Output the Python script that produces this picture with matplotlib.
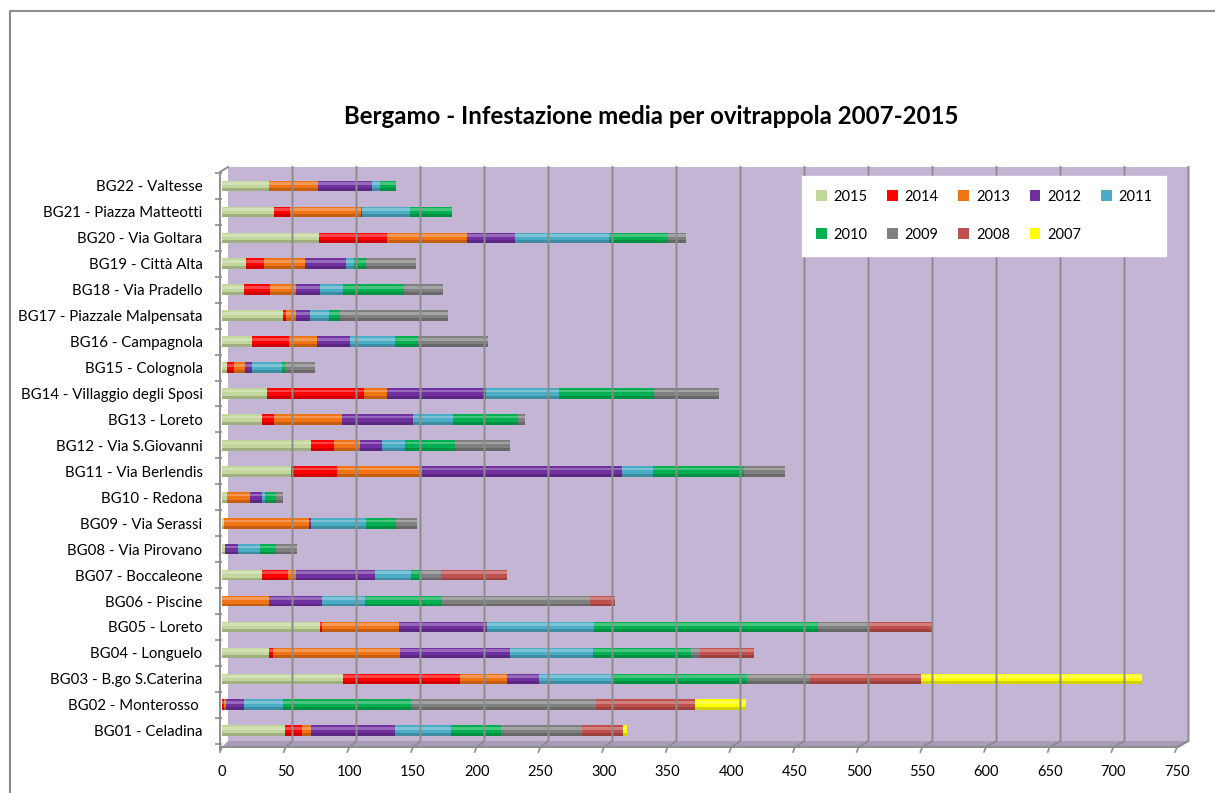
import matplotlib
matplotlib.use('Agg')
import matplotlib.pyplot as plt
from matplotlib.patches import Patch, Polygon
from matplotlib.lines import Line2D

plt.rcParams['font.family'] = ['Lato', 'DejaVu Sans']

# stazioni, dal basso verso l'alto
stazioni = ['BG01 - Celadina', 'BG02 - Monterosso ', 'BG03 - B.go S.Caterina', 'BG04 - Longuelo',
            'BG05 - Loreto', 'BG06 - Piscine', 'BG07 - Boccaleone', 'BG08 - Via Pirovano',
            'BG09 - Via Serassi', 'BG10 - Redona', 'BG11 - Via Berlendis', 'BG12 - Via S.Giovanni',
            'BG13 - Loreto', 'BG14 - Villaggio degli Sposi', 'BG15 - Colognola', 'BG16 - Campagnola',
            'BG17 - Piazzale Malpensata', 'BG18 - Via Pradello', 'BG19 - Città Alta',
            'BG20 - Via Goltara', 'BG21 - Piazza Matteotti', 'BG22 - Valtesse']

anni = ['2015', '2014', '2013', '2012', '2011', '2010', '2009', '2008', '2007']

v2015 = [49.5, 0, 94.7, 37.2, 76.7, 0, 31.5, 2.5, 1.9, 4.0, 53.9, 69.9, 31.5, 35.4, 3.8, 23.6, 48.2, 17.4, 18.7, 76.1, 41.1, 37.2]
v2014 = [13.3, 1.5, 92.0, 2.6, 2.1, 0, 20.6, 0, 0, 0, 36.4, 18.3, 9.1, 76.3, 6.0, 29.3, 2.3, 20.3, 14.6, 53.1, 12.3, 0]
v2013 = [7.1, 1.8, 37.3, 100.1, 60.3, 37.2, 6.3, 0, 66.1, 17.6, 67.1, 20.1, 53.8, 17.5, 8.6, 21.4, 7.9, 20.7, 31.9, 63.5, 55.7, 37.9]
v2012 = [65.6, 14.3, 24.8, 86.2, 68.7, 41.0, 61.9, 9.9, 1.6, 9.6, 156.7, 17.2, 55.9, 78.3, 5.0, 26.4, 10.4, 18.3, 32.1, 37.1, 0.5, 42.6]
v2011 = [44.1, 30.1, 58.3, 65.3, 84.4, 34.0, 28.5, 17.8, 43.4, 2.6, 24.3, 18.3, 31.1, 57.0, 23.8, 35.5, 14.9, 18.3, 6.0, 74.4, 38.1, 6.5]
v2010 = [39.7, 101.1, 105.4, 76.8, 175.8, 60.3, 6.8, 12.3, 23.5, 8.7, 71.9, 38.9, 51.0, 74.5, 2.3, 18.1, 8.6, 48.0, 9.7, 45.7, 33.2, 12.3]
v2009 = [63.2, 145.2, 49.1, 7.3, 39.5, 116.3, 16.2, 16.4, 16.4, 5.2, 32.0, 43.4, 5.2, 51.7, 23.8, 54.6, 85.5, 30.6, 39.2, 14.6, 0, 0]
v2008 = [32.4, 77.6, 87.3, 42.6, 50.1, 19.6, 52.2, 0, 0, 0, 0, 0, 0, 0, 0, 0, 0, 0, 0, 0, 0, 0]
v2007 = [3.2, 39.9, 173.7, 0, 0, 0, 0, 0, 0, 0, 0, 0, 0, 0, 0, 0, 0, 0, 0, 0, 0, 0]
serie = [v2015, v2014, v2013, v2012, v2011, v2010, v2009, v2008, v2007]

colori = ['#C3D69B', '#FF0000', '#F07314', '#7030A0', '#4BACC6',
          '#00B050', '#808080', '#C0504D', '#FFFF00']

W, H = 1215, 793
fig = plt.figure(figsize=(W / 100, H / 100), dpi=100)

def fx(x):
    return x / W

def fy(y):
    return 1 - y / H

# cornice esterna
fig.add_artist(Line2D([fx(10), fx(10), fx(W)], [fy(H), fy(11), fy(11)],
                      transform=fig.transFigure, color='#8C8C8C', lw=1.5))

# pareti 3D (in pixel)
viola = '#C4B5D4'
fig.add_artist(Polygon([(fx(228), fy(741)), (fx(1188), fy(741)), (fx(1188), fy(167)), (fx(228), fy(167))],
                       closed=True, transform=fig.transFigure, facecolor=viola, edgecolor='none', zorder=0))
fig.add_artist(Polygon([(fx(222), fy(747)), (fx(1178), fy(747)), (fx(1188), fy(741)), (fx(228), fy(741))],
                       closed=True, transform=fig.transFigure, facecolor='#A89CB6', edgecolor='none', zorder=0))

# assi: 0 -> 222 px, 750 -> 1177 px
ax = fig.add_axes([fx(222), fy(747), fx(1177) - fx(222), fy(173) - fy(747)])
ax.patch.set_visible(False)
ax.set_xlim(0, 750)
ax.set_ylim(-0.626, 21.41)

# griglia sulla parete di fondo
for k in range(1, 16):
    xf = 222 + k * 63.67
    xb = 228.5 + k * 64
    fig.add_artist(Line2D([fx(xf), fx(xb), fx(xb)], [fy(747), fy(741), fy(167)],
                          transform=fig.transFigure, color='#8C8C8C', lw=1.4, zorder=0.5))
fig.add_artist(Line2D([fx(220), fx(220), fx(228)], [fy(750), fy(172), fy(167)],
                      transform=fig.transFigure, color='#8C8C8C', lw=1.4))
fig.add_artist(Line2D([fx(220), fx(1178), fx(1188)], [fy(747), fy(747), fy(741)],
                      transform=fig.transFigure, color='#8C8C8C', lw=1.4))
for k in range(16):
    xf = 222 + k * 63.67
    fig.add_artist(Line2D([fx(xf - 2), fx(xf)], [fy(752), fy(747)],
                          transform=fig.transFigure, color='#8C8C8C', lw=1.2))

y = list(range(len(stazioni)))
h = 0.41
left = [0.0] * len(stazioni)
for vals, col, anno in zip(serie, colori, anni):
    ax.barh(y, vals, left=left, height=h, color=col, linewidth=0, zorder=3, label=anno)
    # effetto cilindro
    ax.barh([i + 0.09 for i in y], vals, left=left, height=0.1, color='white', alpha=0.28,
            linewidth=0, zorder=4)
    ax.barh([i - 0.15 for i in y], vals, left=left, height=0.11, color='black', alpha=0.18,
            linewidth=0, zorder=4)
    left = [a + b for a, b in zip(left, vals)]

for s in ax.spines.values():
    s.set_visible(False)

ax.set_yticks(y)
ax.set_yticklabels(stazioni, fontsize=10.8)
ax.tick_params(axis='y', length=0, pad=14)
ax.set_yticks([i + 0.5 for i in range(-1, 22)], minor=True)
ax.tick_params(axis='y', which='minor', length=5, color='#8C8C8C', width=1.2)

ax.set_xticks(range(0, 751, 50))
ax.tick_params(axis='x', length=0, pad=13, labelsize=10.5)

fig.text(fx(651), fy(117), 'Bergamo - Infestazione media per ovitrappola 2007-2015',
         fontsize=17.3, fontweight='bold', ha='center', va='center')

order = [0, 5, 1, 6, 2, 7, 3, 8, 4]
handles = [Patch(facecolor=colori[i]) for i in order]
labels = [anni[i] for i in order]
leg = fig.legend(handles, labels, loc='upper left', bbox_to_anchor=(fx(802), fy(176)),
                 ncol=5, fontsize=10.5, frameon=True, fancybox=False, edgecolor='white',
                 framealpha=1, handlelength=0.75, handleheight=0.75, handletextpad=0.45,
                 labelspacing=1.65, columnspacing=1.35, borderpad=0.95, borderaxespad=0)
leg.set_zorder(10)

fig.savefig('out.png', dpi=100)
